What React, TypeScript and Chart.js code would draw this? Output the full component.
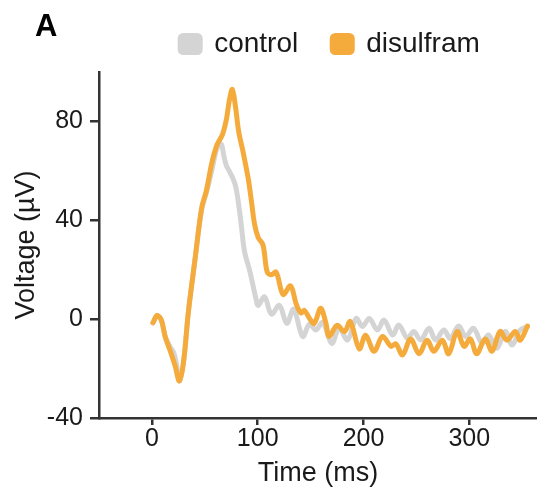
import { useEffect, useRef } from 'react';
import { Chart, registerables } from 'chart.js';

Chart.register(...registerables);

// Time (ms) and voltage (µV)
const disulframTime = [1, 5, 9, 12.5, 17, 22, 26, 30, 34.5, 41, 47, 51.5, 56.5, 61, 64, 67, 70.5, 73, 76, 79, 82, 86, 91, 94, 97, 100.5, 105, 109, 113, 117.5, 124, 131, 136.5, 141, 144, 149, 153.5, 159.5, 164.5, 167.5, 175, 182, 187.5, 196, 202, 210, 218, 226, 230.5, 237, 244.5, 252.5, 260, 266.5, 274.5, 280.5, 288.5, 295, 301, 307, 315, 321.5, 329, 335.5, 343.5, 348, 355];
const disulframVoltage = [-1.5, 1.5, -0.5, -7, -12.5, -19, -25, -17, 3, 25, 45, 52, 63, 70, 72.5, 75, 81, 88, 93, 86, 76, 68, 57, 48, 38.5, 33, 30, 19, 18, 19, 10, 13.5, 6, 2.5, 3.6, 0.3, -1.7, 4.4, -1.6, -7, -2.5, -5, -1, -12, -6.5, -13, -7, -11, -10, -14.5, -8, -14, -8.5, -13, -8.5, -14, -5, -11, -8, -14, -8, -13, -5, -8.5, -5, -8.5, -2.8];

const controlTime = [1, 5, 9, 12.5, 17, 21, 23.5, 26, 30, 34.5, 41, 47, 52, 56.5, 61, 64, 66, 68, 70.5, 73, 76.5, 79, 81.5, 84.5, 87.5, 92.5, 98.5, 100.5, 106.5, 113, 120.5, 127.5, 134, 142.5, 149, 155, 161.5, 170, 177, 185, 193, 199, 205.5, 213, 219.5, 227.5, 233.5, 241.5, 247.5, 254, 262, 268, 276, 282, 290, 296.5, 304, 312, 318, 326, 334, 340.5, 348, 355];
const controlVoltage = [-1.5, 1.5, -0.5, -7, -11, -14, -19, -25, -17, 3, 25, 44, 52, 60, 68.5, 71, 70.5, 66, 62, 60, 57, 54, 48, 38, 27.5, 19.5, 8, 5.5, 9, 2, 5.6, -1.7, 4, -7, -2, -4.4, -1.4, -9.8, -3.7, -8.4, 0.3, -3, 0.3, -4.4, -0.4, -6.4, -2.4, -7.8, -5, -8.4, -3.7, -8.4, -4.4, -7.8, -2.8, -7, -3.7, -9.8, -6.4, -11.8, -5, -10.5, -4.4, -3];

const xTicks = [0, 100, 200, 300];
const yTicks = [-40, 0, 40, 80];

const FONT = '"Liberation Sans", Arial, Helvetica, sans-serif';
const INK = '#1a1a1a';
const AXIS = '#333333';

const legendShift = {
  id: 'legendShift',
  afterLayout(chart: any) {
    const lg = chart.legend;
    if (!lg) return;
    lg.left += 12;
    lg.right += 12;
    lg.top -= 4;
    lg.bottom -= 4;
  },
};

export default function App() {
  const ref = useRef<HTMLCanvasElement>(null);

  useEffect(() => {
    document.body.style.margin = '0';
    const toPts = (t: number[], v: number[]) => t.map((x, i) => ({ x, y: v[i] }));
    const chart = new Chart(ref.current!, {
      type: 'line',
      data: {
        datasets: [
          {
            label: 'disulfram',
            data: toPts(disulframTime, disulframVoltage),
            borderColor: '#F5AB3C',
            backgroundColor: '#F5AB3C',
            borderWidth: 5,
            pointRadius: 0,
            tension: 0.35,
            borderJoinStyle: 'round',
            borderCapStyle: 'round',
          },
          {
            label: 'control',
            data: toPts(controlTime, controlVoltage),
            borderColor: '#D4D4D4',
            backgroundColor: '#D4D4D4',
            borderWidth: 5,
            pointRadius: 0,
            tension: 0.35,
            borderJoinStyle: 'round',
            borderCapStyle: 'round',
          },
        ],
      },
      options: {
        responsive: false,
        animation: false,
        devicePixelRatio: 1,
        layout: { padding: 0 },
        plugins: {
          tooltip: { enabled: false },
          legend: {
            display: true,
            position: 'top',
            align: 'center',
            fullSize: false,
            labels: {
              sort: (a: any, b: any) => b.datasetIndex - a.datasetIndex,
              boxWidth: 20,
              boxHeight: 17,
              useBorderRadius: true,
              borderRadius: 3,
              padding: 34,
              color: INK,
              font: { family: FONT, size: 28 },
            },
          },
        },
        scales: {
          x: {
            type: 'linear',
            min: -50,
            max: 364,
            afterBuildTicks: (s: any) => {
              s.ticks = xTicks.map((value) => ({ value }));
            },
            afterFit: (s: any) => {
              s.height = 79;
            },
            grid: {
              display: true,
              drawOnChartArea: false,
              drawTicks: true,
              tickLength: 7,
              color: AXIS,
              lineWidth: 2.5,
            },
            border: { display: true, color: AXIS, width: 2.5 },
            ticks: {
              color: INK,
              padding: 2,
              maxRotation: 0,
              font: { family: FONT, size: 25, lineHeight: 1 },
            },
            title: {
              display: true,
              text: 'Time (ms)',
              color: INK,
              font: { family: FONT, size: 27, lineHeight: 1 },
              padding: { top: 0, bottom: 10 },
            },
          },
          y: {
            type: 'linear',
            min: -40,
            max: 100,
            afterBuildTicks: (s: any) => {
              s.ticks = yTicks.map((value) => ({ value }));
            },
            afterFit: (s: any) => {
              s.width = 99;
            },
            grid: {
              display: true,
              drawOnChartArea: false,
              drawTicks: true,
              tickLength: 9,
              color: AXIS,
              lineWidth: 2.5,
            },
            border: { display: true, color: AXIS, width: 2.5 },
            ticks: {
              color: INK,
              padding: 7,
              font: { family: FONT, size: 25, lineHeight: 1 },
            },
            title: {
              display: true,
              text: 'Voltage (µV)',
              color: INK,
              font: { family: FONT, size: 27, lineHeight: 1 },
              padding: { top: 13, bottom: 0 },
            },
          },
        },
      },
      plugins: [legendShift],
    } as any);
    return () => chart.destroy();
  }, []);

  return (
    <div style={{ position: 'relative', width: 537, height: 497 }}>
      <canvas ref={ref} width={537} height={497} style={{ display: 'block' }} />
      <div
        style={{
          position: 'absolute',
          left: 35,
          top: 10,
          fontFamily: FONT,
          fontWeight: 'bold',
          fontSize: 31,
          lineHeight: 1,
          color: '#000',
        }}
      >
        A
      </div>
    </div>
  );
}
